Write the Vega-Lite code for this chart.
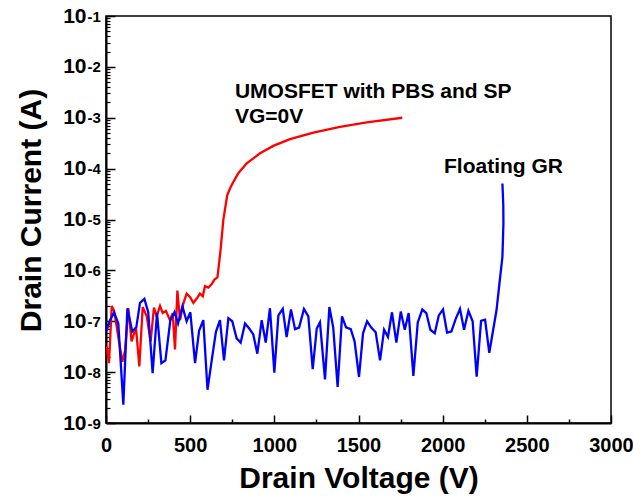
{
  "$schema": "https://vega.github.io/schema/vega-lite/v6.json",
  "width": 505,
  "height": 407,
  "autosize": {"type": "none"},
  "padding": {"left": 106, "top": 16, "right": 22, "bottom": 79},
  "background": "white",
  "config": {
    "view": {"stroke": "black", "strokeWidth": 1.5},
    "font": "Liberation Sans",
    "axis": {
      "labelFont": "Liberation Sans",
      "titleFont": "Liberation Sans",
      "labelFontWeight": "bold",
      "titleFontWeight": "bold",
      "labelColor": "black",
      "titleColor": "black",
      "domainColor": "black",
      "tickColor": "black",
      "grid": false
    }
  },
  "datasets": {
    "curves": [
      {"series": "UMOSFET", "ord": 1, "v": 4, "i": 3.2e-8},
      {"series": "UMOSFET", "ord": 2, "v": 18, "i": 1.5e-8},
      {"series": "UMOSFET", "ord": 3, "v": 34, "i": 2.0e-7},
      {"series": "UMOSFET", "ord": 4, "v": 48, "i": 1.6e-7},
      {"series": "UMOSFET", "ord": 5, "v": 63, "i": 8e-8},
      {"series": "UMOSFET", "ord": 6, "v": 79, "i": 3.7e-8},
      {"series": "UMOSFET", "ord": 7, "v": 97, "i": 1.6e-8},
      {"series": "UMOSFET", "ord": 8, "v": 113, "i": 2.6e-8},
      {"series": "UMOSFET", "ord": 9, "v": 133, "i": 1.8e-7},
      {"series": "UMOSFET", "ord": 10, "v": 152, "i": 4.0e-8},
      {"series": "UMOSFET", "ord": 11, "v": 178, "i": 7.6e-8},
      {"series": "UMOSFET", "ord": 12, "v": 198, "i": 1.3e-8},
      {"series": "UMOSFET", "ord": 13, "v": 218, "i": 1.9e-7},
      {"series": "UMOSFET", "ord": 14, "v": 242, "i": 1.25e-7},
      {"series": "UMOSFET", "ord": 15, "v": 265, "i": 4.0e-8},
      {"series": "UMOSFET", "ord": 16, "v": 285, "i": 1.85e-7},
      {"series": "UMOSFET", "ord": 17, "v": 301, "i": 1.25e-7},
      {"series": "UMOSFET", "ord": 18, "v": 321, "i": 2.0e-7},
      {"series": "UMOSFET", "ord": 19, "v": 337, "i": 1.45e-7},
      {"series": "UMOSFET", "ord": 20, "v": 356, "i": 1.6e-7},
      {"series": "UMOSFET", "ord": 21, "v": 380, "i": 1.05e-7},
      {"series": "UMOSFET", "ord": 22, "v": 396, "i": 1.45e-7},
      {"series": "UMOSFET", "ord": 23, "v": 410, "i": 2.8e-8},
      {"series": "UMOSFET", "ord": 24, "v": 424, "i": 4.0e-7},
      {"series": "UMOSFET", "ord": 25, "v": 440, "i": 1.05e-7},
      {"series": "UMOSFET", "ord": 26, "v": 459, "i": 2.2e-7},
      {"series": "UMOSFET", "ord": 27, "v": 479, "i": 3.5e-7},
      {"series": "UMOSFET", "ord": 28, "v": 499, "i": 3.0e-7},
      {"series": "UMOSFET", "ord": 29, "v": 519, "i": 2.3e-7},
      {"series": "UMOSFET", "ord": 30, "v": 539, "i": 2.8e-7},
      {"series": "UMOSFET", "ord": 31, "v": 558, "i": 3.5e-7},
      {"series": "UMOSFET", "ord": 32, "v": 575, "i": 3.1e-7},
      {"series": "UMOSFET", "ord": 33, "v": 588, "i": 4.9e-7},
      {"series": "UMOSFET", "ord": 34, "v": 608, "i": 4.6e-7},
      {"series": "UMOSFET", "ord": 35, "v": 628, "i": 5.4e-7},
      {"series": "UMOSFET", "ord": 36, "v": 644, "i": 6.6e-7},
      {"series": "UMOSFET", "ord": 37, "v": 662, "i": 7.3e-7},
      {"series": "UMOSFET", "ord": 38, "v": 680, "i": 2.4e-6},
      {"series": "UMOSFET", "ord": 39, "v": 697, "i": 9.8e-6},
      {"series": "UMOSFET", "ord": 40, "v": 720, "i": 3.0e-5},
      {"series": "UMOSFET", "ord": 41, "v": 740, "i": 4.3e-5},
      {"series": "UMOSFET", "ord": 42, "v": 757, "i": 5.5e-5},
      {"series": "UMOSFET", "ord": 43, "v": 786, "i": 8.1e-5},
      {"series": "UMOSFET", "ord": 44, "v": 836, "i": 1.27e-4},
      {"series": "UMOSFET", "ord": 45, "v": 915, "i": 2.0e-4},
      {"series": "UMOSFET", "ord": 46, "v": 994, "i": 2.8e-4},
      {"series": "UMOSFET", "ord": 47, "v": 1093, "i": 3.8e-4},
      {"series": "UMOSFET", "ord": 48, "v": 1232, "i": 5.1e-4},
      {"series": "UMOSFET", "ord": 49, "v": 1390, "i": 6.6e-4},
      {"series": "UMOSFET", "ord": 50, "v": 1549, "i": 8.1e-4},
      {"series": "UMOSFET", "ord": 51, "v": 1760, "i": 1.0e-3},
      {"series": "Floating GR", "ord": 1, "v": 0, "i": 6.2e-8},
      {"series": "Floating GR", "ord": 2, "v": 24, "i": 1.05e-7},
      {"series": "Floating GR", "ord": 3, "v": 48, "i": 1.5e-7},
      {"series": "Floating GR", "ord": 4, "v": 73, "i": 9e-8},
      {"series": "Floating GR", "ord": 5, "v": 103, "i": 2.3e-9},
      {"series": "Floating GR", "ord": 6, "v": 127, "i": 1.8e-7},
      {"series": "Floating GR", "ord": 7, "v": 156, "i": 6.3e-8},
      {"series": "Floating GR", "ord": 8, "v": 180, "i": 7.6e-8},
      {"series": "Floating GR", "ord": 9, "v": 202, "i": 2.3e-7},
      {"series": "Floating GR", "ord": 10, "v": 228, "i": 2.75e-7},
      {"series": "Floating GR", "ord": 11, "v": 251, "i": 1.5e-7},
      {"series": "Floating GR", "ord": 12, "v": 277, "i": 9.5e-9},
      {"series": "Floating GR", "ord": 13, "v": 303, "i": 1.45e-7},
      {"series": "Floating GR", "ord": 14, "v": 329, "i": 1.5e-8},
      {"series": "Floating GR", "ord": 15, "v": 353, "i": 1.7e-8},
      {"series": "Floating GR", "ord": 16, "v": 382, "i": 1.03e-7},
      {"series": "Floating GR", "ord": 17, "v": 407, "i": 1.52e-7},
      {"series": "Floating GR", "ord": 18, "v": 428, "i": 9e-8},
      {"series": "Floating GR", "ord": 19, "v": 454, "i": 1.95e-7},
      {"series": "Floating GR", "ord": 20, "v": 479, "i": 1e-7},
      {"series": "Floating GR", "ord": 21, "v": 501, "i": 1.5e-7},
      {"series": "Floating GR", "ord": 22, "v": 529, "i": 1.5e-8},
      {"series": "Floating GR", "ord": 23, "v": 553, "i": 6.5e-8},
      {"series": "Floating GR", "ord": 24, "v": 578, "i": 1.05e-7},
      {"series": "Floating GR", "ord": 25, "v": 603, "i": 4.5e-9},
      {"series": "Floating GR", "ord": 26, "v": 628, "i": 1.7e-8},
      {"series": "Floating GR", "ord": 27, "v": 653, "i": 6.2e-8},
      {"series": "Floating GR", "ord": 28, "v": 677, "i": 1.05e-7},
      {"series": "Floating GR", "ord": 29, "v": 701, "i": 1.7e-8},
      {"series": "Floating GR", "ord": 30, "v": 727, "i": 1.15e-7},
      {"series": "Floating GR", "ord": 31, "v": 750, "i": 1e-7},
      {"series": "Floating GR", "ord": 32, "v": 776, "i": 4.6e-8},
      {"series": "Floating GR", "ord": 33, "v": 800, "i": 3.8e-8},
      {"series": "Floating GR", "ord": 34, "v": 826, "i": 9e-8},
      {"series": "Floating GR", "ord": 35, "v": 851, "i": 7.2e-8},
      {"series": "Floating GR", "ord": 36, "v": 875, "i": 5.5e-8},
      {"series": "Floating GR", "ord": 37, "v": 899, "i": 2.3e-8},
      {"series": "Floating GR", "ord": 38, "v": 925, "i": 1.05e-7},
      {"series": "Floating GR", "ord": 39, "v": 949, "i": 3.8e-8},
      {"series": "Floating GR", "ord": 40, "v": 974, "i": 1.8e-7},
      {"series": "Floating GR", "ord": 41, "v": 1000, "i": 9.8e-9},
      {"series": "Floating GR", "ord": 42, "v": 1024, "i": 1.3e-7},
      {"series": "Floating GR", "ord": 43, "v": 1050, "i": 1.75e-7},
      {"series": "Floating GR", "ord": 44, "v": 1073, "i": 4.9e-8},
      {"series": "Floating GR", "ord": 45, "v": 1099, "i": 1.7e-7},
      {"series": "Floating GR", "ord": 46, "v": 1123, "i": 7e-8},
      {"series": "Floating GR", "ord": 47, "v": 1147, "i": 7.5e-8},
      {"series": "Floating GR", "ord": 48, "v": 1176, "i": 1.75e-7},
      {"series": "Floating GR", "ord": 49, "v": 1202, "i": 1.25e-7},
      {"series": "Floating GR", "ord": 50, "v": 1228, "i": 1.15e-8},
      {"series": "Floating GR", "ord": 51, "v": 1252, "i": 7.2e-8},
      {"series": "Floating GR", "ord": 52, "v": 1271, "i": 9.5e-8},
      {"series": "Floating GR", "ord": 53, "v": 1301, "i": 7.2e-9},
      {"series": "Floating GR", "ord": 54, "v": 1327, "i": 1.9e-7},
      {"series": "Floating GR", "ord": 55, "v": 1350, "i": 7.5e-8},
      {"series": "Floating GR", "ord": 56, "v": 1376, "i": 5.1e-9},
      {"series": "Floating GR", "ord": 57, "v": 1402, "i": 1.25e-7},
      {"series": "Floating GR", "ord": 58, "v": 1426, "i": 7.6e-8},
      {"series": "Floating GR", "ord": 59, "v": 1454, "i": 7e-8},
      {"series": "Floating GR", "ord": 60, "v": 1477, "i": 4e-8},
      {"series": "Floating GR", "ord": 61, "v": 1503, "i": 8.1e-9},
      {"series": "Floating GR", "ord": 62, "v": 1527, "i": 5.8e-8},
      {"series": "Floating GR", "ord": 63, "v": 1551, "i": 1e-7},
      {"series": "Floating GR", "ord": 64, "v": 1576, "i": 7.5e-8},
      {"series": "Floating GR", "ord": 65, "v": 1602, "i": 6.1e-8},
      {"series": "Floating GR", "ord": 66, "v": 1628, "i": 1.7e-8},
      {"series": "Floating GR", "ord": 67, "v": 1652, "i": 6.8e-8},
      {"series": "Floating GR", "ord": 68, "v": 1675, "i": 4.9e-8},
      {"series": "Floating GR", "ord": 69, "v": 1699, "i": 1.5e-7},
      {"series": "Floating GR", "ord": 70, "v": 1725, "i": 3.8e-8},
      {"series": "Floating GR", "ord": 71, "v": 1751, "i": 1.55e-7},
      {"series": "Floating GR", "ord": 72, "v": 1775, "i": 6.8e-8},
      {"series": "Floating GR", "ord": 73, "v": 1798, "i": 1.45e-7},
      {"series": "Floating GR", "ord": 74, "v": 1826, "i": 8.4e-9},
      {"series": "Floating GR", "ord": 75, "v": 1852, "i": 9.5e-8},
      {"series": "Floating GR", "ord": 76, "v": 1879, "i": 1.7e-7},
      {"series": "Floating GR", "ord": 77, "v": 1903, "i": 1.45e-7},
      {"series": "Floating GR", "ord": 78, "v": 1927, "i": 6.8e-8},
      {"series": "Floating GR", "ord": 79, "v": 1953, "i": 5.8e-8},
      {"series": "Floating GR", "ord": 80, "v": 1977, "i": 1.3e-7},
      {"series": "Floating GR", "ord": 81, "v": 2002, "i": 1.7e-7},
      {"series": "Floating GR", "ord": 82, "v": 2026, "i": 6e-8},
      {"series": "Floating GR", "ord": 83, "v": 2052, "i": 6.3e-8},
      {"series": "Floating GR", "ord": 84, "v": 2077, "i": 1.1e-7},
      {"series": "Floating GR", "ord": 85, "v": 2103, "i": 1.75e-7},
      {"series": "Floating GR", "ord": 86, "v": 2127, "i": 6.8e-8},
      {"series": "Floating GR", "ord": 87, "v": 2153, "i": 1.6e-7},
      {"series": "Floating GR", "ord": 88, "v": 2178, "i": 1e-7},
      {"series": "Floating GR", "ord": 89, "v": 2202, "i": 8.1e-9},
      {"series": "Floating GR", "ord": 90, "v": 2228, "i": 1.02e-7},
      {"series": "Floating GR", "ord": 91, "v": 2252, "i": 1.07e-7},
      {"series": "Floating GR", "ord": 92, "v": 2277, "i": 2.4e-8},
      {"series": "Floating GR", "ord": 93, "v": 2320, "i": 1.66e-7},
      {"series": "Floating GR", "ord": 94, "v": 2341, "i": 7.1e-7},
      {"series": "Floating GR", "ord": 95, "v": 2355, "i": 1.85e-6},
      {"series": "Floating GR", "ord": 96, "v": 2361, "i": 8.5e-6},
      {"series": "Floating GR", "ord": 97, "v": 2360, "i": 1.95e-5},
      {"series": "Floating GR", "ord": 98, "v": 2355, "i": 5.1e-5}
    ],
    "notes": [
      {"grp": 1, "label": "UMOSFET with PBS and SP", "v": 766, "i": 3.25e-3},
      {"grp": 1, "label": "VG=0V", "v": 766, "i": 1.02e-3},
      {"grp": 2, "label": "Floating GR", "v": 2008, "i": 1.09e-4}
    ]
  },
  "layer": [
    {
      "data": {"name": "curves"},
      "mark": {"type": "line", "strokeWidth": 2.3, "clip": true},
      "encoding": {
        "x": {
          "field": "v", "type": "quantitative",
          "scale": {"domain": [0, 3000], "nice": false, "zero": false},
          "axis": {
            "orient": "bottom",
            "values": [0, 500, 1000, 1500, 2000, 2500, 3000],
            "format": "d",
            "tickSize": -8, "tickWidth": 1.5, "domainWidth": 2,
            "labelFontSize": 20, "labelPadding": 20, "labelFlush": false,
            "title": "Drain Voltage (V)", "titleFontSize": 30,
            "titleBaseline": "alphabetic", "titleY": 64
          }
        },
        "y": {
          "field": "i", "type": "quantitative",
          "scale": {"type": "log", "domain": [1e-9, 0.1], "nice": false},
          "axis": {
            "orient": "left",
            "values": [1e-9, 1e-8, 1e-7, 1e-6, 1e-5, 1e-4, 1e-3, 1e-2, 1e-1],
            "labelExpr": "'10'",
            "tickSize": -9, "tickWidth": 1.5, "domainWidth": 2,
            "labelFontSize": 21, "labelPadding": 29, "labelBaseline": "middle", "labelDy": 1,
            "title": "Drain Current (A)", "titleFontSize": 30,
            "titleX": -66, "titleY": 194, "titleBaseline": "alphabetic", "titleAngle": -90
          }
        },
        "color": {
          "field": "series", "type": "nominal",
          "scale": {"domain": ["UMOSFET", "Floating GR"], "range": ["#ff0000", "#0000ff"]},
          "legend": null
        },
        "order": {"field": "ord", "type": "quantitative"}
      }
    },
    {
      "data": {"name": "notes"},
      "transform": [{"filter": "datum.grp == 1"}],
      "mark": {"type": "text", "align": "left", "baseline": "middle", "fontSize": 21, "fontWeight": "bold", "font": "Liberation Sans", "color": "black"},
      "encoding": {
        "x": {
          "field": "v", "type": "quantitative",
          "scale": {"domain": [0, 3000], "nice": false, "zero": false},
          "axis": {
            "orient": "bottom",
            "values": [250, 750, 1250, 1750, 2250, 2750],
            "tickSize": -4, "tickWidth": 1.5, "labels": false, "domain": false, "title": null
          }
        },
        "y": {
          "field": "i", "type": "quantitative",
          "scale": {"type": "log", "domain": [1e-9, 0.1], "nice": false},
          "axis": {
            "orient": "left",
            "values": [1e-9, 1e-8, 1e-7, 1e-6, 1e-5, 1e-4, 1e-3, 1e-2, 1e-1],
            "labelExpr": "'-' + format(round(-log(datum.value) / LN10), 'd')",
            "ticks": false, "domain": false, "title": null,
            "labelAlign": "left", "labelPadding": 19, "labelFontSize": 15,
            "labelBaseline": "middle", "labelDy": -5
          }
        },
        "text": {"field": "label"}
      }
    },
    {
      "data": {"name": "notes"},
      "transform": [{"filter": "datum.grp == 2"}],
      "mark": {"type": "text", "align": "left", "baseline": "middle", "fontSize": 21, "fontWeight": "bold", "font": "Liberation Sans", "color": "black"},
      "encoding": {
        "x": {
          "field": "v", "type": "quantitative",
          "scale": {"domain": [0, 3000], "nice": false, "zero": false},
          "axis": null
        },
        "y": {
          "field": "i", "type": "quantitative",
          "scale": {"type": "log", "domain": [1e-9, 0.1], "nice": false},
          "axis": {
            "orient": "left",
            "values": [2e-9, 3e-9, 4e-9, 5e-9, 6e-9, 7e-9, 8e-9, 9e-9,
                       2e-8, 3e-8, 4e-8, 5e-8, 6e-8, 7e-8, 8e-8, 9e-8,
                       2e-7, 3e-7, 4e-7, 5e-7, 6e-7, 7e-7, 8e-7, 9e-7,
                       2e-6, 3e-6, 4e-6, 5e-6, 6e-6, 7e-6, 8e-6, 9e-6,
                       2e-5, 3e-5, 4e-5, 5e-5, 6e-5, 7e-5, 8e-5, 9e-5,
                       2e-4, 3e-4, 4e-4, 5e-4, 6e-4, 7e-4, 8e-4, 9e-4,
                       2e-3, 3e-3, 4e-3, 5e-3, 6e-3, 7e-3, 8e-3, 9e-3,
                       2e-2, 3e-2, 4e-2, 5e-2, 6e-2, 7e-2, 8e-2, 9e-2],
            "tickSize": -4, "tickWidth": 1.2, "labels": false, "domain": false, "title": null
          }
        },
        "text": {"field": "label"}
      }
    }
  ],
  "resolve": {"axis": {"x": "independent", "y": "independent"}}
}
